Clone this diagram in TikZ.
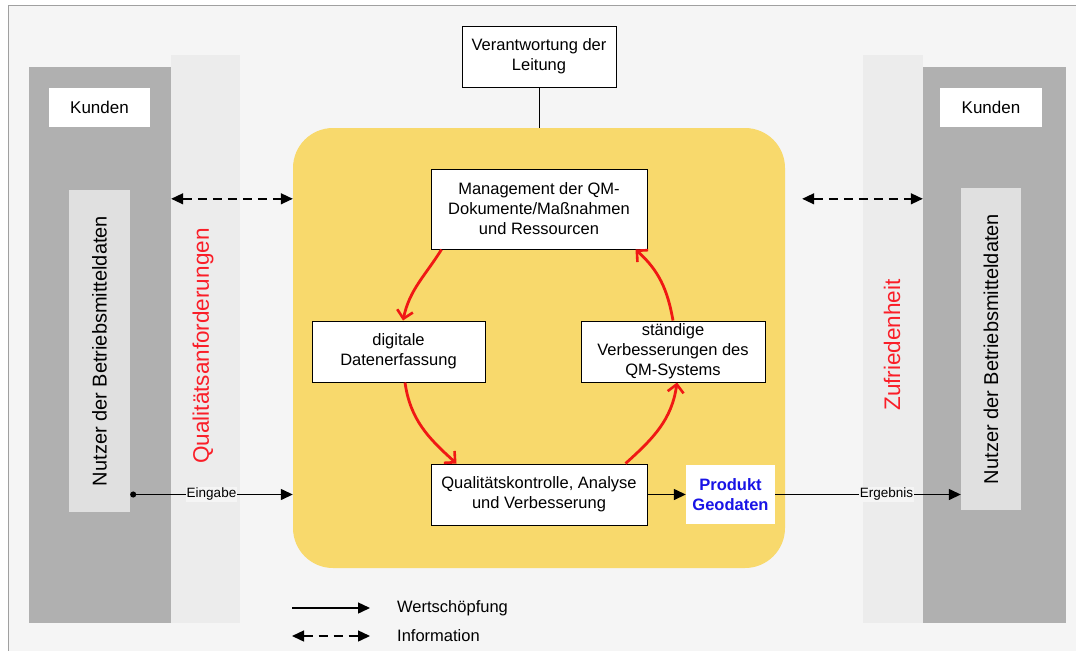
\documentclass[tikz,border=0pt]{standalone}
\usepackage{fontspec}
\setmainfont{Liberation Sans}
\usetikzlibrary{arrows.meta,calc}
\definecolor{panel}{RGB}{245,245,245}
\definecolor{band}{RGB}{236,236,236}
\definecolor{frameline}{RGB}{160,160,160}
\definecolor{column}{RGB}{176,176,176}
\definecolor{strip}{RGB}{224,224,224}
\definecolor{corefill}{RGB}{248,217,108}
\definecolor{cyclered}{RGB}{240,24,20}
\definecolor{labelred}{RGB}{250,30,40}
\definecolor{prodblue}{RGB}{25,20,230}

\begin{document}
\begin{tikzpicture}[x=1pt,y=-1pt,
  box/.style={draw=black, line width=1pt, fill=white, align=center,
    font=\fontsize{16.5}{20}\selectfont, inner sep=0pt},
  colbox/.style={fill=column, inner sep=0pt},
  stripbox/.style={fill=strip, inner sep=0pt},
  custbox/.style={fill=white, inner sep=0pt, font=\fontsize{17}{20}\selectfont},
  sidelabel/.style={rotate=90, text=labelred, font=\fontsize{22.5}{27}\selectfont},
  userlabel/.style={rotate=90, font=\fontsize{20}{24}\selectfont},
  flow/.style={line width=1.4pt, -{Triangle[length=12pt,width=11pt]}},
  info/.style={line width=1.4pt, dash pattern=on 9pt off 6pt,
    {Triangle[length=12pt,width=11pt]}-{Triangle[length=12pt,width=11pt]}},
  cycle/.style={draw=cyclered, line width=2.8pt,
    -{Straight Barb[length=8pt,width=16pt,line width=2.6pt]}},
  flowlabel/.style={fill=panel, inner sep=1pt, font=\fontsize{13.5}{16}\selectfont},
  legendtext/.style={anchor=west, inner sep=0pt, font=\fontsize{16.5}{19}\selectfont}
]
\useasboundingbox (0,0) rectangle (1076,651);

% panel background with its thin frame on top and left
\fill[white] (0,0) rectangle (1076,651);
\fill[panel] (8,5) rectangle (1076,651);
\draw[frameline, line width=1pt] (8,651) -- (8,5) -- (1076,5);
\fill[band] (171,55) rectangle (240,623);
\fill[band] (863,55) rectangle (923,623);

% customer columns
\node[colbox, minimum width=142pt, minimum height=556pt] (colL) at (100,345) {};
\node[colbox, minimum width=143pt, minimum height=556pt] (colR) at (994.5,345) {};
\node[custbox, minimum width=101pt, minimum height=39pt] (custL) at (99.5,107.5) {Kunden};
\node[custbox, minimum width=102pt, minimum height=39pt] (custR) at (991,107.5) {Kunden};
\node[stripbox, minimum width=61pt, minimum height=322pt] (stripL) at (99.5,351) {};
\node[stripbox, minimum width=60pt, minimum height=322pt] (stripR) at (991,349) {};
\node[userlabel] (userL) at (stripL) {Nutzer der Betriebsmitteldaten};
\node[userlabel] (userR) at (stripR) {Nutzer der Betriebsmitteldaten};

% side labels
\node[sidelabel] (req) at (203,346) {Qualitätsanforderungen};
\node[sidelabel] (sat) at (892,345) {Zufriedenheit};

% quality management core
\node[fill=corefill, rounded corners=40pt, minimum width=492pt,
      minimum height=440pt, inner sep=0pt] (core) at (539,348) {};

\node[box, minimum width=154pt, minimum height=61pt] (lead) at (539,56.5)
  {Verantwortung der\\Leitung};
\node[box, minimum width=216pt, minimum height=80pt] (mgmt) at (539,209)
  {Management der QM-\\Dokumente/Maßnahmen\\und Ressourcen};
\node[box, minimum width=173pt, minimum height=61pt] (dig) at (398.5,351.5)
  {digitale\\Datenerfassung};
\node[box, minimum width=184pt, minimum height=61pt] (impr) at (673,351.5)
  {ständige\\Verbesserungen des\\QM-Systems};
\node[box, minimum width=216pt, minimum height=61pt] (qual) at (539,494.5)
  {Qualitätskontrolle, Analyse\\und Verbesserung};
\node[fill=white, inner sep=0pt, minimum width=89pt, minimum height=59pt,
      align=center, text=prodblue, font=\bfseries\fontsize{16.5}{20}\selectfont]
  (prod) at (730.5,494.5) {Produkt\\Geodaten};

% leadership link
\draw[line width=1pt] (lead.south) -- (core.north);

% improvement cycle
\draw[cycle] ($(mgmt.south west)+(11,0)$) to[out=238, in=78] ($(dig.north)+(4.5,0)$);
\draw[cycle] ($(dig.south)+(6.5,0)$) to[out=-82, in=138] ($(qual.north west)+(26,0)$);
\draw[cycle] ($(qual.north east)+(-22,0)$) to[out=42, in=-98] ($(impr.south)+(4,0)$);
\draw[cycle] ($(impr.north)+(0,0)$) to[out=100, in=-42] ($(mgmt.south east)+(-12,0)$);

% information exchange
\draw[info] ($(colL.north east)+(0,132)$) -- ($(core.north west)+(0,71)$);
\draw[info] ($(core.north east)+(17,71)$) -- ($(colR.north west)+(0,132)$);

% value chain
\draw[flow, {Circle[length=6pt]}-{Triangle[length=12pt,width=11pt]}]
  (stripL.east |- qual) -- node[flowlabel] (inlab) {Eingabe} (core.west |- qual);
\draw[flow] (qual.east) -- (prod.west);
\draw[flow] (prod.east) -- node[flowlabel, pos=0.6] (outlab) {Ergebnis} (stripR.west |- prod);

% legend
\coordinate (lgA1) at (292,608);
\coordinate (lgA2) at (370,608);
\coordinate (lgB1) at (292,636);
\coordinate (lgB2) at (370,636);
\draw[flow] (lgA1) -- (lgA2);
\draw[info] (lgB1) -- (lgB2);
\node[legendtext] (lgtA) at (397,608) {Wertschöpfung};
\node[legendtext] (lgtB) at (397,636) {Information};
\end{tikzpicture}
\end{document}
